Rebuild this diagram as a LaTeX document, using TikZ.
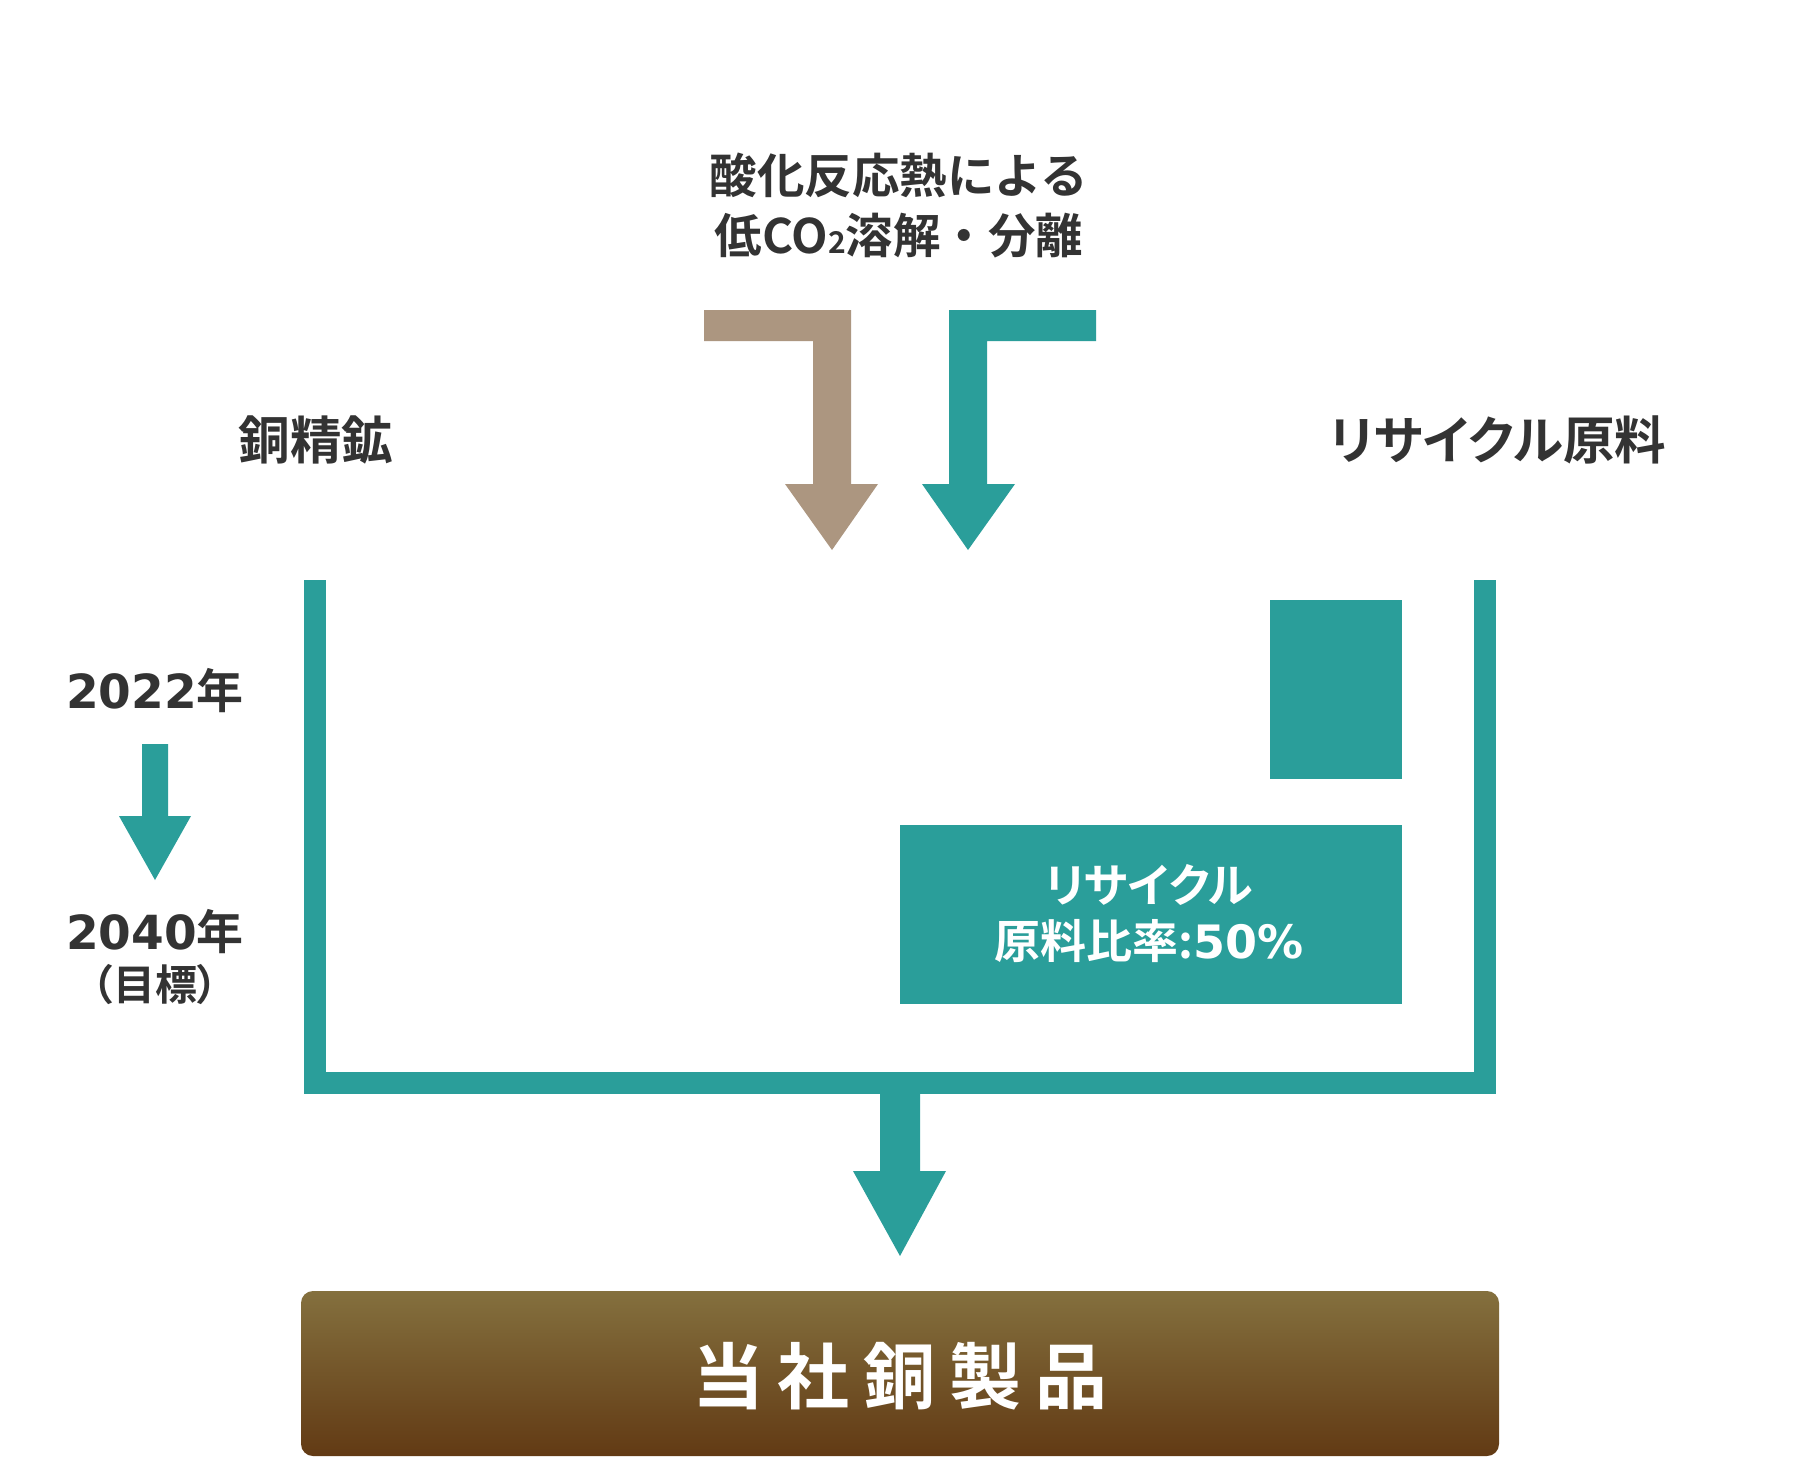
\documentclass[tikz,border=0pt]{standalone}
\usepackage{fontspec}
\newfontfamily\jp{Noto Sans CJK JP}[BoldFont={* Bold},RawFeature=+palt]
\newfontfamily\jpf{Noto Sans CJK JP}[BoldFont={* Bold}]
\newfontfamily\dv{DejaVu Sans}
\definecolor{teal1}{HTML}{2A9E9A}
\definecolor{tan1}{HTML}{AC9680}
\definecolor{ink}{HTML}{333333}
\definecolor{gtop}{HTML}{84703E}
\definecolor{gbot}{HTML}{623A14}
\begin{document}
\begin{tikzpicture}[x=1pt,y=-1pt,
  lbl/.style={text=ink,font=\jp\bfseries\fontsize{51.5}{60}\selectfont,align=center,inner sep=0},
  yr/.style={text=ink,font=\bfseries\fontsize{47}{52}\selectfont,align=center,inner sep=0},
  bar/.style={fill=teal1},
]
\useasboundingbox (0,0) rectangle (1800,1458);
\fill[white] (0,0) rectangle (1800,1458);

% title
\node[text=ink,font=\jpf\bfseries\fontsize{47.5}{60}\selectfont,align=center,inner sep=0] (title) at (899,205) {酸化反応熱による\\低CO{\fontsize{30}{30}\selectfont 2}溶解・分離};

% brown bent arrow
\fill[tan1] (704,310) -- (851,310) -- (851,484) -- (878,484) -- (832,550) -- (785,484) -- (813,484) -- (813,341) -- (704,341) -- cycle;
% teal bent arrow
\fill[teal1] (1096,310) -- (949,310) -- (949,484) -- (922,484) -- (968,550) -- (1015,484) -- (987,484) -- (987,341) -- (1096,341) -- cycle;

\node[lbl] (ore) at (316,440) {銅精鉱};
\node[lbl] (rec) at (1498,440) {リサイクル原料};

% U channel
\coordinate (ul) at (315,580);
\coordinate (ur) at (1485,580);
\draw[teal1,line width=22pt,line join=miter] (ul) -- (315,1082.5) -- (1485,1082.5) -- (ur);

% small bar (2022)
\fill[teal1] (1270,600) rectangle (1402,779);
% big bar (2040)
\node[bar,minimum width=502pt,minimum height=179pt,inner sep=0,anchor=north west] (big) at (900,825) {};
\node[text=white,font=\jp\bfseries\fontsize{46}{56}\selectfont,align=center,inner sep=0] (bigtxt) at (1149,914)
  {リサイクル\\原料比率:{\dv 50\%}};

% bottom arrow
\fill[teal1] (880,1092) -- (920,1092) -- (920,1171) -- (946,1171) -- (900,1256) -- (853,1171) -- (880,1171) -- cycle;

% product box
\node[rounded corners=12pt,top color=gtop,bottom color=gbot,minimum width=1198pt,minimum height=165pt,inner sep=0] (prod) at (900,1373.5) {};
\node[text=white,font=\jp\bfseries\fontsize{72}{72}\selectfont,inner sep=0] (prodtxt) at (900,1376) {当\hspace{14pt}社\hspace{14pt}銅\hspace{14pt}製\hspace{14pt}品};

% years
\node[yr] (y1) at (155,691) {{\dv 2022}{\jp 年}};
\fill[teal1] (142,744) -- (168,744) -- (168,816) -- (191,816) -- (155,880) -- (119,816) -- (142,816) -- cycle;
\node[yr] (y2) at (155,932) {{\dv 2040}{\jp 年}};
\node[text=ink,font=\jp\bfseries\fontsize{42}{42}\selectfont,inner sep=0] (y2b) at (155,985) {（目標）};
\end{tikzpicture}
\end{document}
